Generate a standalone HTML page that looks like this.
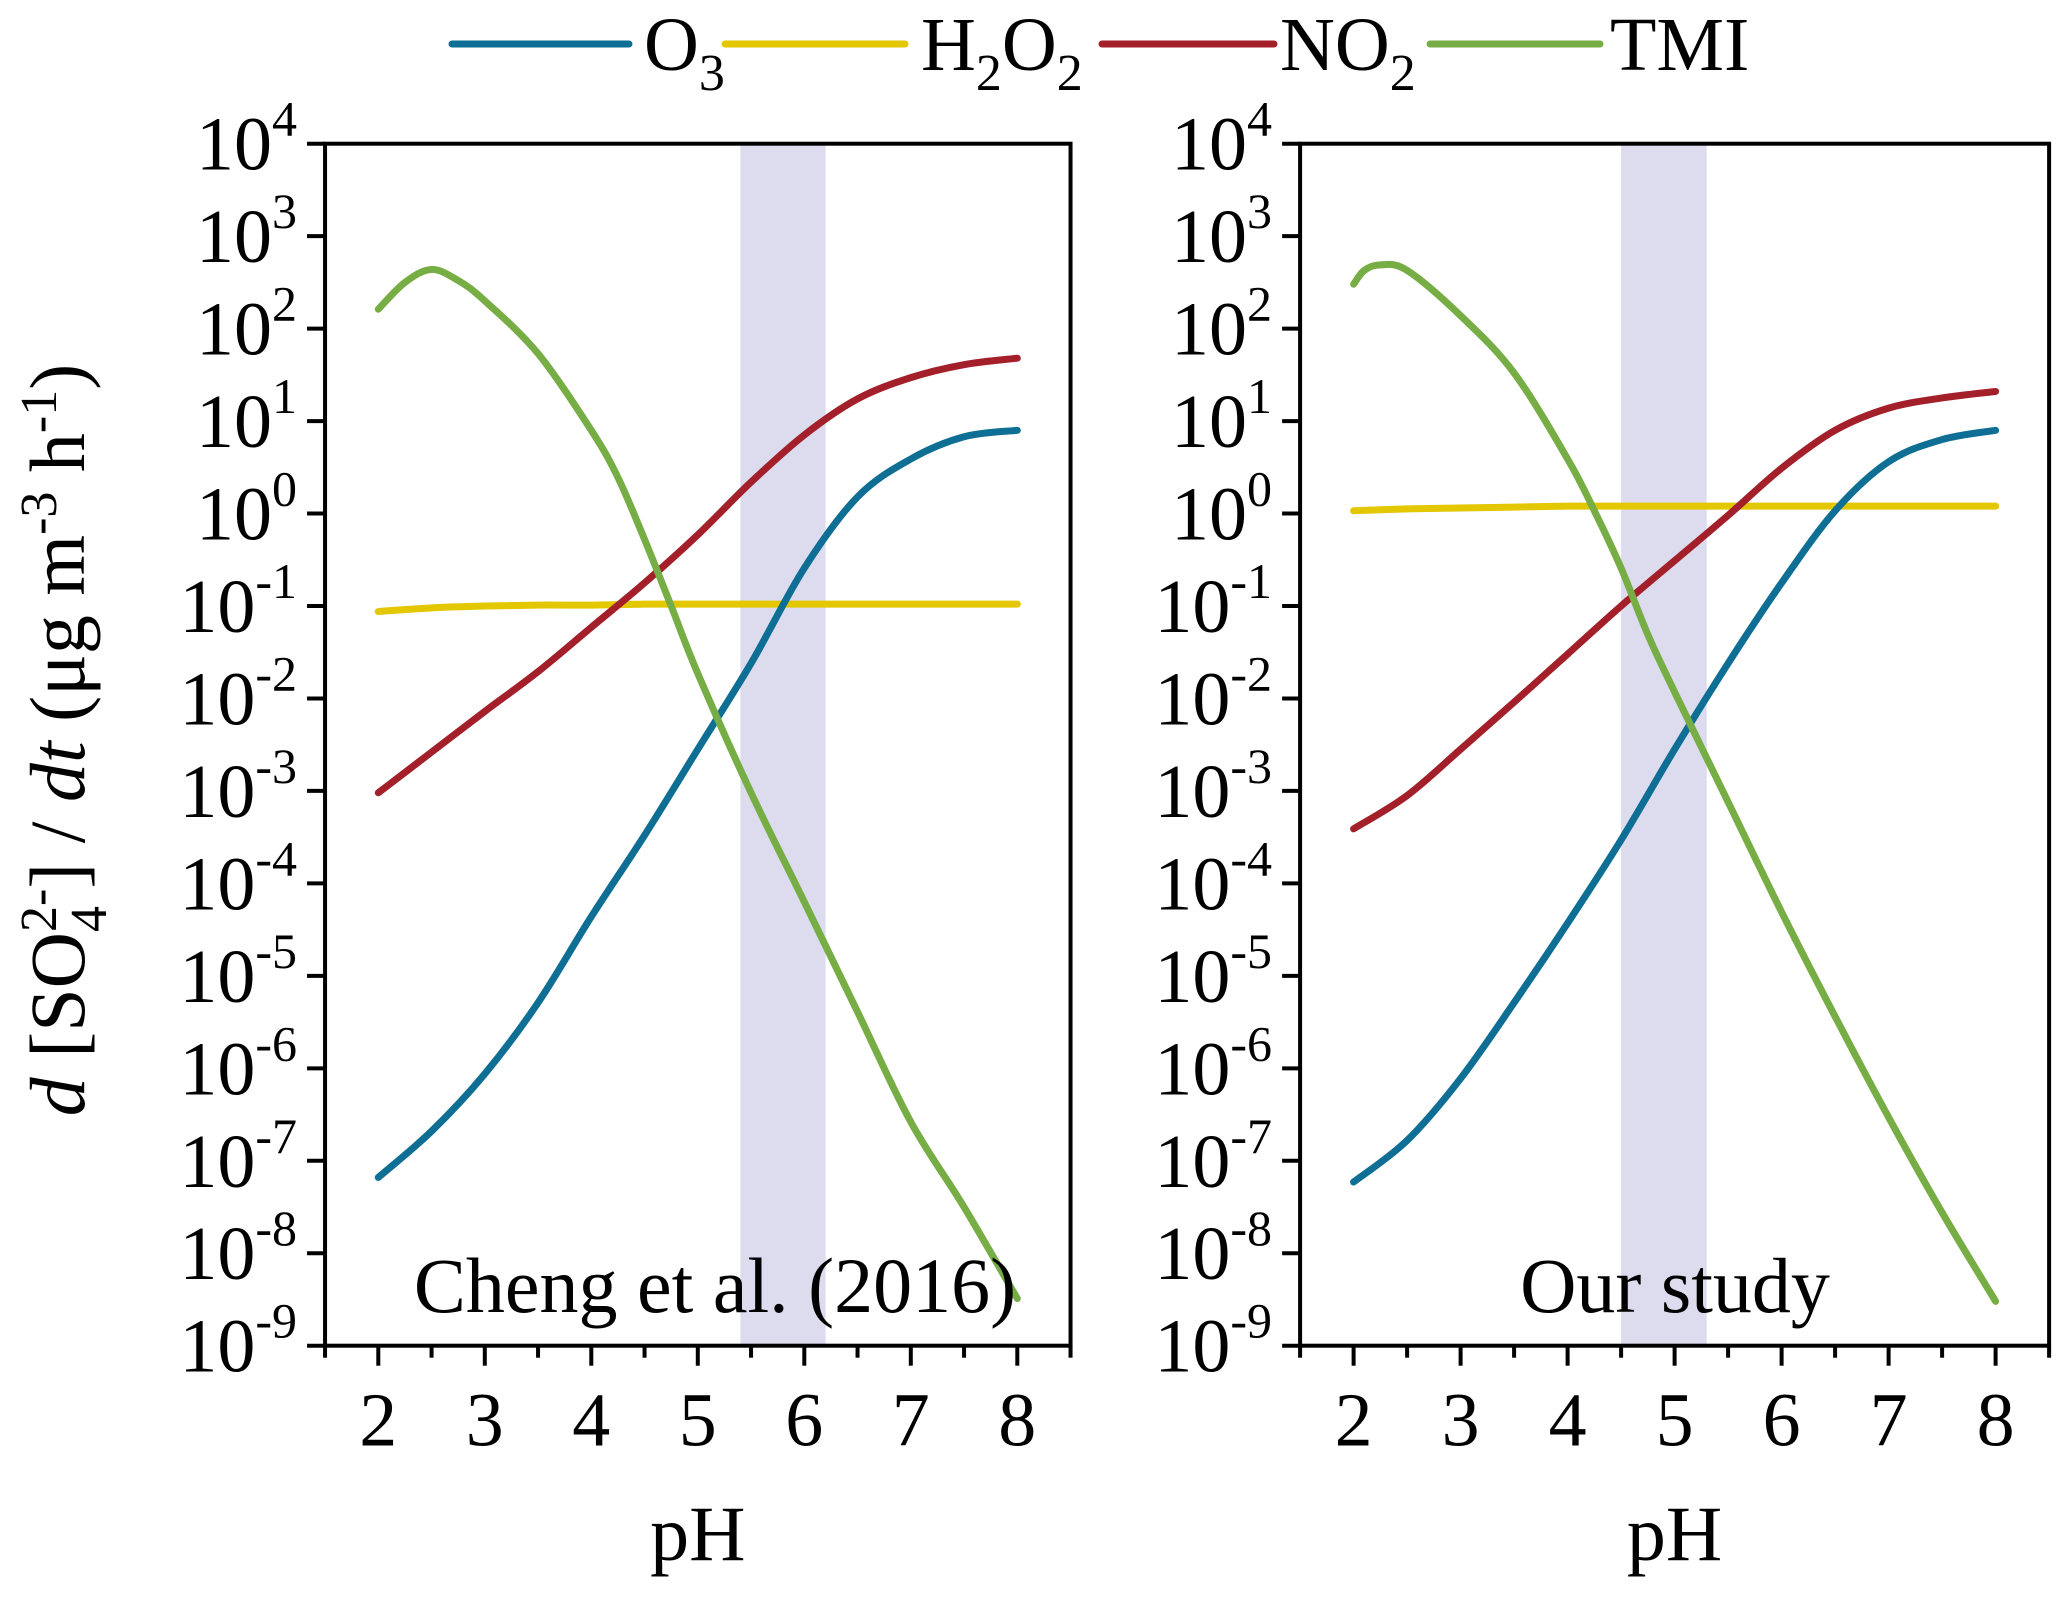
<!DOCTYPE html>
<html><head><meta charset="utf-8"><style>
html,body{margin:0;padding:0;background:#fff;}
svg{display:block;font-family:"Liberation Serif",serif;}
</style></head><body>
<svg id="chart" width="2067" height="1598" viewBox="0 0 2067 1598" xmlns="http://www.w3.org/2000/svg">
<g id="legend" font-size="76" fill="#000">
  <g><line x1="452" y1="44" x2="629" y2="44" stroke="#0e6e94" stroke-width="7" stroke-linecap="round"/><text x="644" y="70">O<tspan font-size="52" dy="20">3</tspan></text></g>
  <g><line x1="725" y1="44" x2="905" y2="44" stroke="#e3c700" stroke-width="7" stroke-linecap="round"/><text x="921" y="70">H<tspan font-size="52" dy="20">2</tspan><tspan dy="-20">O</tspan><tspan font-size="52" dy="20">2</tspan></text></g>
  <g><line x1="1102" y1="44" x2="1274" y2="44" stroke="#a31f2a" stroke-width="7" stroke-linecap="round"/><text x="1280" y="70">NO<tspan font-size="52" dy="20">2</tspan></text></g>
  <g><line x1="1430" y1="44" x2="1600" y2="44" stroke="#77ad45" stroke-width="7" stroke-linecap="round"/><text x="1610" y="70">TMI</text></g>
</g>
<text transform="translate(84,740) rotate(-90)" text-anchor="middle" font-size="78"><tspan font-style="italic">d</tspan> [SO<tspan font-size="52" dy="22">4</tspan><tspan font-size="52" dx="-26" dy="-50">2-</tspan><tspan dy="28">] / </tspan><tspan font-style="italic">dt</tspan> (μg m<tspan font-size="52" dy="-28">-3</tspan><tspan dy="28"> h</tspan><tspan font-size="52" dy="-28">-1</tspan><tspan dy="28">)</tspan></text>
</svg>
<script>
// Shared x values (pH)
const phValues = [2,2.5,3,3.5,4,4.5,5,5.5,6,6.5,7,7.5,8];
const tmiPhValues = [2,2.25,2.5,2.75,3,3.5,4,4.25,4.5,4.75,5,5.5,6,6.5,7,7.5,8];
const tmiPhValuesR = [2,2.1,2.25,2.5,3,3.5,4,4.25,4.5,4.75,5,5.5,6,6.5,7,7.5,8];
// Left panel (Cheng et al. 2016), log10 values
const o3Left   = [-7.18,-6.68,-6.06,-5.29,-4.36,-3.48,-2.55,-1.62,-0.59,0.18,0.59,0.83,0.90];
const no2Left  = [-3.02,-2.58,-2.14,-1.71,-1.23,-0.75,-0.23,0.34,0.85,1.24,1.47,1.61,1.68];
const h2o2Left = [-1.06,-1.02,-1.0,-0.99,-0.99,-0.98,-0.98,-0.98,-0.98,-0.98,-0.98,-0.98,-0.98];
const tmiLeft  = [2.21,2.50,2.64,2.52,2.30,1.73,0.90,0.39,-0.28,-1.0,-1.73,-3.02,-4.2,-5.39,-6.58,-7.5,-8.49];
// Right panel (Our study)
const o3Right   = [-7.23,-6.78,-6.11,-5.29,-4.43,-3.53,-2.55,-1.62,-0.75,0.03,0.56,0.80,0.90];
const no2Right  = [-3.41,-3.05,-2.55,-2.04,-1.52,-1.0,-0.51,-0.02,0.49,0.90,1.14,1.25,1.32];
const h2o2Right = [0.03,0.05,0.06,0.07,0.08,0.08,0.08,0.08,0.08,0.08,0.08,0.08,0.08];
const tmiRight  = [2.48,2.63,2.69,2.63,2.14,1.52,0.59,0.03,-0.59,-1.31,-1.93,-3.12,-4.31,-5.44,-6.53,-7.56,-8.52];
const xTicks = [2,3,4,5,6,7,8];
const yExponents = [4,3,2,1,0,-1,-2,-3,-4,-5,-6,-7,-8,-9];
const shadeLeft = [5.4,6.2];
const shadeRight = [4.5,5.3];

const NS="http://www.w3.org/2000/svg";
const svg=document.getElementById('chart');
function mk(tag,attrs,parent){const e=document.createElementNS(NS,tag);for(const k in attrs)e.setAttribute(k,attrs[k]);(parent||svg).appendChild(e);return e;}
const yTop=143.7, yBot=1345.7;
function yScale(v){return yTop+(4-v)*(yBot-yTop)/13;}
function smoothPath(pts){let d=`M${pts[0][0]},${pts[0][1]}`;for(let i=0;i<pts.length-1;i++){const p0=pts[i-1]||pts[i],p1=pts[i],p2=pts[i+1],p3=pts[i+2]||p2;d+=` C${p1[0]+(p2[0]-p0[0])/6},${p1[1]+(p2[1]-p0[1])/6} ${p2[0]-(p3[0]-p1[0])/6},${p2[1]-(p3[1]-p1[1])/6} ${p2[0]},${p2[1]}`;}return d;}

function panel(name,x2px,unit,shade,series,label,labelX,labelRight){
  const xScale=p=>x2px+(p-2)*unit;
  const g=mk('g',{});
  
  
  const sh=mk('rect',{x:xScale(shade[0]),y:yTop,width:xScale(shade[1])-xScale(shade[0]),height:yBot-yTop,fill:'#dcdcee'},g);
  
  
  for(const s of series){
    const pts=s.x.map((p,i)=>[xScale(p),yScale(s.v[i])]);
    const path=mk('path',{d:smoothPath(pts),fill:'none',stroke:s.c,'stroke-width':7,'stroke-linecap':'round','stroke-linejoin':'round'},g);
    
    
  }
  const fr=mk('rect',{x:xScale(1.5),y:yTop,width:xScale(8.5)-xScale(1.5),height:yBot-yTop,fill:'none',stroke:'#000','stroke-width':4},g);
  
  
  const ax=mk('g',{},g);
  
  
  for(let p=1.5;p<=8.51;p+=0.5){const maj=Number.isInteger(p)&&p>=2;mk('line',{x1:xScale(p),x2:xScale(p),y1:yBot,y2:yBot+(maj?20:12),stroke:'#000','stroke-width':4},ax);}
  for(const t of xTicks){const tx=mk('text',{x:xScale(t),y:yBot+100,'text-anchor':'middle','font-size':76},ax);tx.textContent=t;
    
    }
  const xt=mk('text',{x:xScale(5),y:1560,'text-anchor':'middle','font-size':78},ax);xt.textContent='pH';
  
  
  const ay=mk('g',{},g);
  
  
  const lx=xScale(1.5);
  for(const e of yExponents){const y=yScale(e);mk('line',{x1:lx-18,x2:lx,y1:y,y2:y,stroke:'#000','stroke-width':4},ay);
    const t=mk('text',{x:labelRight,y:y+26,'text-anchor':'end','font-size':76},ay);
    
    
    const a=document.createElementNS(NS,'tspan');a.textContent='10';t.appendChild(a);
    const b=document.createElementNS(NS,'tspan');b.setAttribute('font-size','50');b.setAttribute('dy','-34');b.textContent=(e<0?'-':'')+Math.abs(e);t.appendChild(b);}
  const an=mk('text',{x:labelX,y:1312,'text-anchor':'middle','font-size':78},g);an.textContent=label;
  
  
}
panel('left-panel',378.3,106.5,shadeLeft,[
  {n:'h2o2-line-left',c:'#e3c700',x:phValues,v:h2o2Left},
  {n:'no2-line-left',c:'#a31f2a',x:phValues,v:no2Left},
  {n:'o3-line-left',c:'#0e6e94',x:phValues,v:o3Left},
  {n:'tmi-line-left',c:'#77ad45',x:tmiPhValues,v:tmiLeft}],'Cheng et al. (2016)',715,297);
panel('right-panel',1353.6,107,shadeRight,[
  {n:'h2o2-line-right',c:'#e3c700',x:phValues,v:h2o2Right},
  {n:'no2-line-right',c:'#a31f2a',x:phValues,v:no2Right},
  {n:'o3-line-right',c:'#0e6e94',x:phValues,v:o3Right},
  {n:'tmi-line-right',c:'#77ad45',x:tmiPhValuesR,v:tmiRight}],'Our study',1675,1272);
</script>
</body></html>
